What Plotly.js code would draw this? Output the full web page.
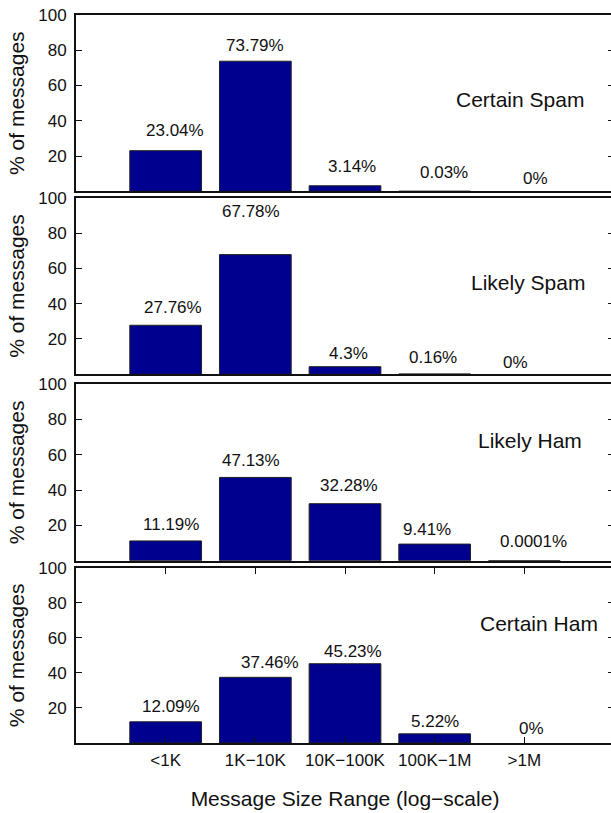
<!DOCTYPE html>
<html>
<head>
<meta charset="utf-8">
<script src="https://cdn.plot.ly/plotly-3.0.1.min.js"></script>
<style>
html,body{margin:0;padding:0;overflow:hidden;background:#fff;}
#chart{width:614px;height:813px;}
</style>
</head>
<body>
<div id="chart"></div>
<script>
// ---- data ----
const categories = ['<1K', '1K\u221210K', '10K\u2212100K', '100K\u22121M', '>1M'];
const panelNames = ['Certain Spam', 'Likely Spam', 'Likely Ham', 'Certain Ham'];
const certainSpam = [23.04, 73.79, 3.14, 0.03, 0];
const likelySpam  = [27.76, 67.78, 4.3, 0.16, 0];
const likelyHam   = [11.19, 47.13, 32.28, 9.41, 0.0001];
const certainHam  = [12.09, 37.46, 45.23, 5.22, 0];
const yTicks = [20, 40, 60, 80, 100];
const yTitle = '% of messages';
const xTitle = 'Message Size Range (log\u2212scale)';

// ---- label nudges (pixels) ----
const labelDx = [
  [9, 0, 7, 9, 11],
  [7, -4, 3, -2, -9],
  [5, -4, 4, -8, 9],
  [5, 15, 8, 0, 7]
];
const labelDy = [
  [20, 16, 19, 19, 13],
  [18, 43, 13, 16, 12],
  [16, 17, 18, 15, 19],
  [15, 15, 12, 12, 14]
];
const namePos = [[3.95, 52], [4.04, 52], [4.06, 68], [4.16, 68]];

const series = [certainSpam, likelySpam, likelyHam, certainHam];
const domains = [[0.7578, 1], [0.5065, 0.7490], [0.2504, 0.4931], [0, 0.2408]];

const FONT = 'Liberation Sans, Arial, Helvetica, sans-serif';
const INK = '#111111';
const BAR = '#00008F';

const traces = [];
const layout = {
  width: 614, height: 813,
  margin: {l: 76, r: 0, t: 15, b: 70},
  paper_bgcolor: '#ffffff', plot_bgcolor: '#ffffff',
  showlegend: false,
  bargap: 0.2,
  font: {family: FONT, color: INK, size: 17},
  annotations: []
};

series.forEach((vals, p) => {
  const sfx = p === 0 ? '' : String(p + 1);
  const xa = 'x' + sfx, ya = 'y' + sfx;
  traces.push({
    type: 'bar', x: categories, y: vals, xaxis: xa, yaxis: ya,
    marker: {color: BAR, line: {color: '#222222', width: vals.map(v => v === 0 ? 0 : 1)}},
    hoverinfo: 'skip'
  });
  const last = p === series.length - 1;
  layout['xaxis' + sfx] = {
    type: 'category', anchor: ya, range: [-1, 5],
    showline: true, linecolor: INK, linewidth: 2,
    mirror: last ? 'ticks' : true,
    ticks: last ? 'inside' : '', ticklen: 6, tickwidth: 1, tickcolor: INK,
    showticklabels: last, tickfont: {size: 17, family: FONT, color: INK},
    ticklabelstandoff: 1,
    showgrid: false, zeroline: false, fixedrange: true,
    title: last ? {text: xTitle, font: {size: 21, family: FONT, color: INK}, standoff: 22} : undefined
  };
  layout['yaxis' + sfx] = {
    anchor: xa, domain: domains[p], range: [0, 100],
    tickmode: 'array', tickvals: yTicks,
    ticks: 'inside', ticklen: 6, tickwidth: 1, tickcolor: INK,
    showline: true, linecolor: INK, linewidth: 2, mirror: 'ticks',
    tickfont: {size: 17, family: FONT, color: INK},
    ticklabelstandoff: 4,
    showgrid: false, zeroline: false, fixedrange: true,
    title: {text: yTitle, font: {size: 21, family: FONT, color: INK}, standoff: 8}
  };
  vals.forEach((v, i) => {
    layout.annotations.push({
      xref: xa, yref: ya, x: categories[i], y: v,
      text: String(v) + '%', showarrow: false,
      xanchor: 'center', yanchor: 'middle',
      xshift: labelDx[p][i], yshift: labelDy[p][i],
      font: {size: 17, family: FONT, color: INK}
    });
  });
  layout.annotations.push({
    xref: xa, yref: ya, x: namePos[p][0], y: namePos[p][1],
    text: panelNames[p], showarrow: false,
    xanchor: 'center', yanchor: 'middle',
    font: {size: 21, family: FONT, color: INK}
  });
});

Plotly.newPlot('chart', traces, layout, {staticPlot: true, displayModeBar: false});
</script>
</body>
</html>
